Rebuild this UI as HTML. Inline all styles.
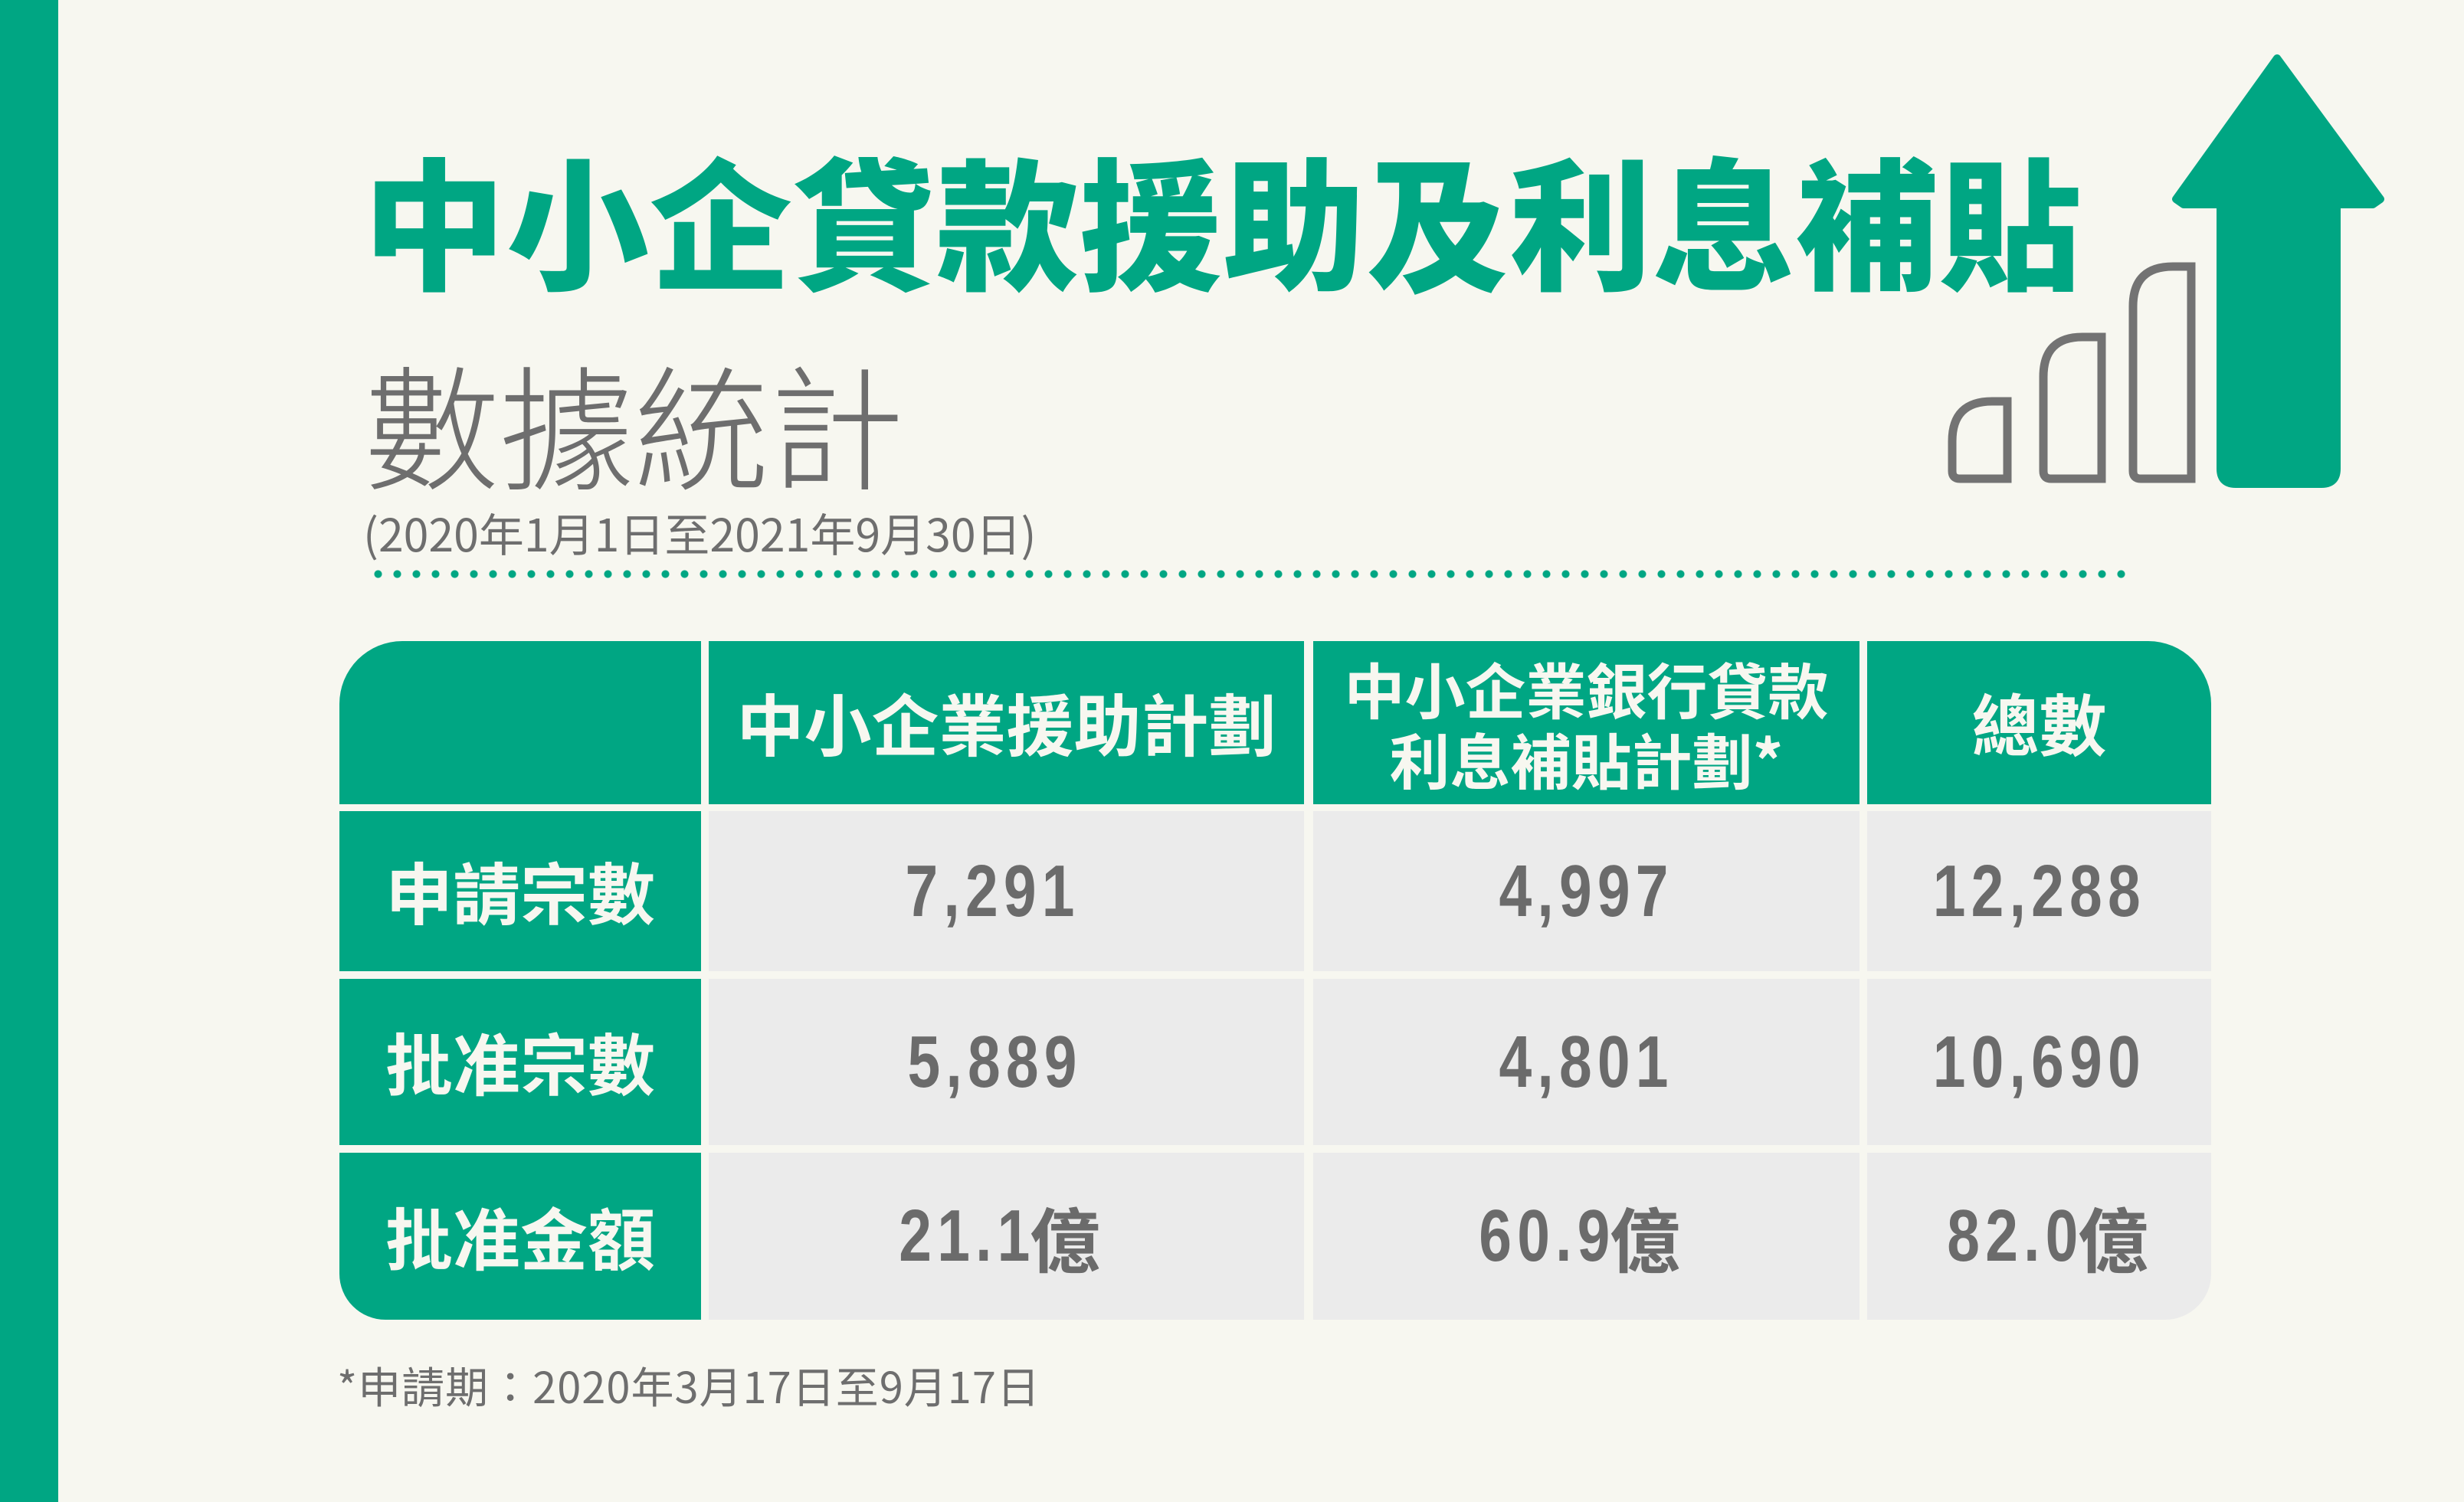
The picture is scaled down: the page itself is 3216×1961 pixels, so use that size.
<!DOCTYPE html>
<html><head><meta charset="utf-8"><style>
*{margin:0;padding:0;box-sizing:border-box}
body{width:3216px;height:1961px;background:#f7f7f0;position:relative;overflow:hidden;font-family:"Liberation Sans","Noto Sans CJK TC",sans-serif}
.abs{position:absolute;white-space:nowrap}
.cjk{font-family:"Noto Sans CJK TC","Noto Sans CJK SC",sans-serif}
.cell{position:absolute;display:flex;align-items:center;justify-content:center;text-align:center}
.g{background:#00a683;color:#f7f7f0;font-family:"Noto Sans CJK TC",sans-serif;font-weight:700;font-size:88px;line-height:1.1}
.n{background:#ebebeb;color:#6b6b6b;font-family:"Liberation Sans","Noto Sans CJK TC",sans-serif;font-weight:700;font-size:96px}
.n b{display:inline-block;transform:scaleX(0.8);transform-origin:center;letter-spacing:9px}
.n span.c{font-family:"Noto Sans CJK TC",sans-serif;font-size:92px;margin-left:-30px}
</style></head><body>
<div class="abs" style="left:0;top:0;width:76px;height:1961px;background:#00a683"></div>
<div class="abs cjk" style="left:474px;top:163px;font-size:186px;line-height:240px;font-weight:900;color:#00a683;letter-spacing:1px">中小企貸款援助及利息補貼</div>
<div class="abs cjk" style="left:476px;top:440px;font-size:176px;line-height:220px;font-weight:300;color:#6e6e6e">數據統計</div>
<div class="abs cjk" style="left:474px;top:660px;font-size:59px;line-height:70px;color:#6e6e6e;letter-spacing:0px">(2020年1月1日至2021年9月30日)</div>
<div class="abs" style="left:488px;top:744px;width:2300px;height:11px;background:radial-gradient(circle at 5.5px 5.5px,#00a683 4.5px,transparent 5.5px);background-size:25px 11px"></div>

<svg class="abs" style="left:0;top:0" width="3216" height="700">
<path d="M2972 76 L3107 260 L3097 267 L3050 267 L3050 612 Q3050 632 3030 632 L2918 632 Q2898 632 2898 612 L2898 267 L2850 267 L2840 260 Z" fill="#00a683" stroke="#00a683" stroke-width="10" stroke-linejoin="round"/>
<g fill="none" stroke="#737373" stroke-width="11">
<path d="M2620 524 L2600 524 Q2548 524 2548 576 L2548 615 Q2548 625 2558 625 L2620 625 Z"/>
<path d="M2743 440 L2718 440 Q2667 440 2667 492 L2667 615 Q2667 625 2677 625 L2743 625 Z"/>
<path d="M2860 348 L2836 348 Q2784 348 2784 400 L2784 615 Q2784 625 2794 625 L2860 625 Z"/>
</g></svg>

<div class="cell g" style="left:443px;top:837px;width:472px;height:213px;border-top-left-radius:82px"></div>
<div class="cell g" style="left:925px;top:837px;width:777px;height:213px">中小企業援助計劃</div>
<div class="cell g" style="left:1714px;top:837px;width:713px;height:213px;font-size:79px;line-height:92px">中小企業銀行貸款<br>利息補貼計劃*</div>
<div class="cell g" style="left:2437px;top:837px;width:449px;height:213px;border-top-right-radius:82px">總數</div>

<div class="cell g" style="left:443px;top:1059px;width:472px;height:209px">申請宗數</div>
<div class="cell n" style="left:925px;top:1059px;width:777px;height:209px;padding-right:36px"><b>7,291</b></div>
<div class="cell n" style="left:1714px;top:1059px;width:713px;height:209px"><b>4,997</b></div>
<div class="cell n" style="left:2437px;top:1059px;width:449px;height:209px"><b>12,288</b></div>

<div class="cell g" style="left:443px;top:1278px;width:472px;height:217px">批准宗數</div>
<div class="cell n" style="left:925px;top:1278px;width:777px;height:217px;padding-right:30px"><b>5,889</b></div>
<div class="cell n" style="left:1714px;top:1278px;width:713px;height:217px"><b>4,801</b></div>
<div class="cell n" style="left:2437px;top:1278px;width:449px;height:217px"><b>10,690</b></div>

<div class="cell g" style="left:443px;top:1505px;width:472px;height:218px;border-bottom-left-radius:60px">批准金額</div>
<div class="cell n" style="left:925px;top:1505px;width:777px;height:218px;padding-right:40px"><b>21.1</b><span class="c">億</span></div>
<div class="cell n" style="left:1714px;top:1505px;width:713px;height:218px;padding-right:40px"><b>60.9</b><span class="c">億</span></div>
<div class="cell n" style="left:2437px;top:1505px;width:449px;height:218px;border-bottom-right-radius:60px"><b>82.0</b><span class="c">億</span></div>

<div class="abs cjk" style="left:440px;top:1774px;font-size:56px;line-height:70px;color:#6e6e6e;letter-spacing:1px">*申請期：2020年3月17日至9月17日</div>
</body></html>
